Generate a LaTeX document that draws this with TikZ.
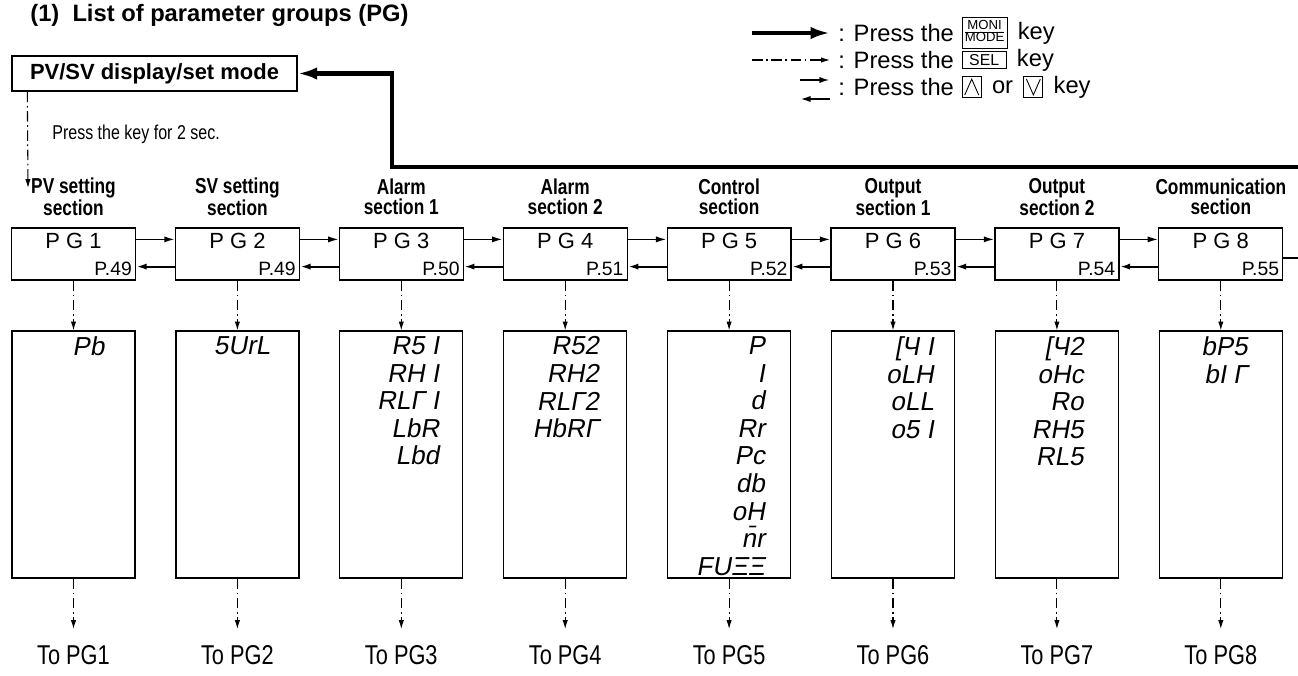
\documentclass[tikz,border=0pt]{standalone}
\usepackage{fontspec}
\setmainfont{Liberation Sans}
\newfontfamily\condfont[FakeStretch=0.8]{Liberation Sans}
\newfontfamily\segfont[FakeSlant=0.18]{Liberation Sans}
\usetikzlibrary{positioning,calc,arrows.meta}

\tikzset{
  monikey/.style={line width=2.4pt, -{Latex[length=11pt,width=7pt]}},
  selkey/.style={line width=0.6pt, dash pattern=on 6pt off 2pt on 1pt off 2pt, -{Latex[length=5pt,width=3pt]}},
  updown/.style={line width=0.9pt, -{Latex[length=6pt,width=3.5pt]}},
  pgbox/.style={draw, line width=0.7pt, minimum width=2.48cm, minimum height=1.04cm, inner sep=0pt},
  parbox/.style={draw, line width=0.7pt, minimum width=2.46cm, minimum height=4.94cm, inner sep=0pt},
  keybox/.style={draw, line width=0.5pt, inner sep=1.5pt},
  legtext/.style={font=\fontsize{13.5}{15}\selectfont, inner sep=0pt},
  seclabel/.style={font=\condfont\bfseries\fontsize{12.3}{11.2}\selectfont, align=center, inner sep=0pt}
}

\begin{document}
\begin{tikzpicture}[x=0.02cm, y=-0.02cm]
  \useasboundingbox (0,0) rectangle (1298,676);

  % Title
  \node[anchor=west, font=\bfseries\fontsize{13.5}{16}\selectfont, inner sep=0pt] (title) at (30,15) {(1)\ \ List of parameter groups (PG)};

  % Legend
  \coordinate (l1s) at (752,33); \coordinate (l1e) at (830,33);
  \draw[monikey] (l1s) -- (l1e);
  \node[legtext, anchor=west] (t1) at (838,33) {: Press the};
  \node[keybox, right=0.15cm of t1] (kmoni) {\fontsize{7.5}{7.5}\selectfont\begin{tabular}{@{}c@{}}MONI\\[-1pt]\hline MODE\end{tabular}};
  \node[legtext, right=0.2cm of kmoni] (t1k) {key};

  \coordinate (l2s) at (752,60); \coordinate (l2e) at (830,60);
  \draw[selkey] (l2s) -- (l2e);
  \node[legtext, anchor=west] (t2) at (838,60) {: Press the};
  \node[keybox, right=0.15cm of t2, font=\fontsize{9}{9}\selectfont, inner xsep=4pt] (ksel) {SEL};
  \node[legtext, right=0.2cm of ksel] (t2k) {key};

  \coordinate (l3s) at (800,80); \coordinate (l3e) at (830,80);
  \coordinate (l4s) at (830,99); \coordinate (l4e) at (800,99);
  \draw[updown, line width=1.1pt] (l3s) -- (l3e);
  \draw[updown, line width=1.1pt] (l4s) -- (l4e);
  \node[legtext, anchor=west] (t3) at (838,87) {: Press the};
  \node[keybox, right=0.15cm of t3, minimum width=0.38cm, minimum height=0.42cm] (kup) {};
  \draw[line width=0.5pt] ($(kup.south west)+(3,-3)$) -- ($(kup.north)+(0,3)$) -- ($(kup.south east)+(-3,-3)$);
  \node[legtext, right=0.2cm of kup] (tor) {or};
  \node[keybox, right=0.2cm of tor, minimum width=0.38cm, minimum height=0.42cm] (kdown) {};
  \draw[line width=0.5pt] ($(kdown.north west)+(3,3)$) -- ($(kdown.south)+(0,-3)$) -- ($(kdown.north east)+(-3,3)$);
  \node[legtext, right=0.2cm of kdown] (t3k) {key};

  % PV/SV mode box and return path
  \node[draw, line width=0.8pt, minimum width=5.7cm, minimum height=0.7cm, inner sep=0pt,
        font=\bfseries\fontsize{12.5}{14}\selectfont] (pvbox) at (154.5,73.5) {PV/SV display/set mode};
  \coordinate (retR) at (1298,167);
  \coordinate (retC) at (392,167);
  \draw[monikey] (retR) -- (retC) |- (pvbox.east);
  \coordinate (pvdown) at (28,188);
  \draw[selkey] ($(pvbox.south west)+(16,0)$) -- (pvdown);
  \node[anchor=west, font=\condfont\fontsize{11.4}{13}\selectfont, inner sep=0pt] (hold) at (52,134) {Press the key for 2 sec.};

  % Parameter groups
  \foreach \i/\secA/\secB/\pg/\rm/\params in {
    1/{PV setting}/section/49/31/{Pb},
    2/{SV setting}/section/49/29/{5UrL},
    3/Alarm/{section 1}/50/24/{R5 I\\RH I\\RLΓ I\\LbR\\Lbd},
    4/Alarm/{section 2}/51/28/{R52\\RH2\\RLΓ2\\HbRΓ},
    5/Control/section/52/26/{P\\I\\d\\Rr\\Pc\\db\\oH\\\smash{\=n}r\\FUΞΞ},
    6/Output/{section 1}/53/21/{[Ч I\\oLH\\oLL\\o5 I},
    7/Output/{section 2}/54/35/{[Ч2\\oHc\\Ro\\RH5\\RL5},
    8/Communication/section/55/35/{bP5\\bI Γ}} {
    \pgfmathsetmacro\xc{73.5+163.9*(\i-1)}
    \node[seclabel] (sec\i) at (\xc,197) {\secA\\\secB};
    \node[pgbox] (pg\i) at (\xc,254) {};
    \node[font=\fontsize{12.5}{14}\selectfont, inner sep=0pt] (pgname\i) at ($(pg\i.north)+(0,14)$) {P G \i};
    \node[font=\fontsize{11}{12}\selectfont, inner sep=0pt, anchor=east] (pgpage\i) at ($(pg\i.south east)+(-4,-12)$) {P.\pg};
    \node[parbox] (par\i) at (\xc,454.5) {};
    \node[anchor=north east, align=right, inner sep=0pt, font=\segfont\fontsize{14.8}{15.7}\selectfont]
      (parlist\i) at ($(par\i.north east)+(-\rm,6)$) {\params};
    \node[anchor=north, font=\condfont\fontsize{15.5}{17}\selectfont, inner sep=0pt] (to\i) at (\xc,645) {To PG\i};
    \draw[selkey] (pg\i.south) -- (par\i.north);
    \draw[selkey, shorten >=0.32cm] (par\i.south) -- (to\i.north);
  }

  % Up / down keys between groups
  \foreach \i [evaluate=\i as \j using int(\i+1)] in {1,...,7} {
    \draw[updown] ($(pg\i.north east)+(0,12)$) -- ($(pg\j.north west)+(0,12)$);
    \draw[updown, line width=1.2pt] ($(pg\j.south west)+(0,-14)$) -- ($(pg\i.south east)+(0,-14)$);
  }
  \coordinate (stubR) at (1298,258);
  \draw[line width=0.9pt] (pg8.east |- stubR) -- (stubR);
\end{tikzpicture}
\end{document}
